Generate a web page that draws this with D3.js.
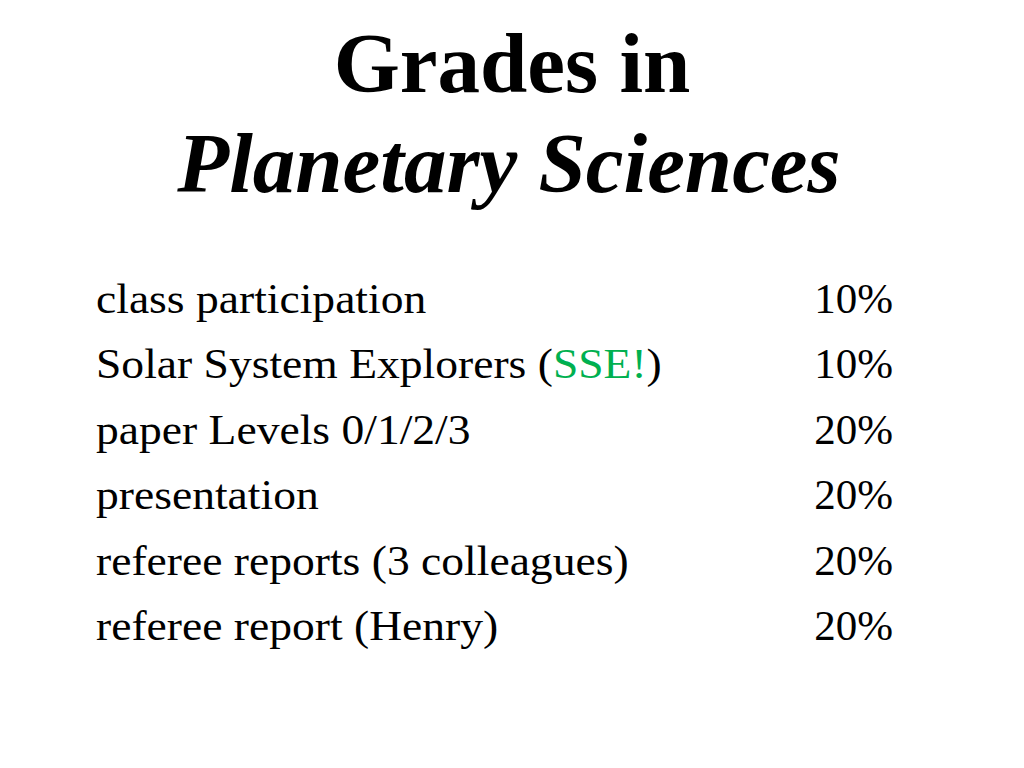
<!DOCTYPE html>
<html><head><meta charset="utf-8">
<script src="https://cdn.jsdelivr.net/npm/d3@7"></script>
<style>body{margin:0;background:#fff}</style></head>
<body><svg id="c" width="1024" height="768"></svg>
<script>
const items = ["class participation","Solar System Explorers (SSE!)","paper Levels 0/1/2/3","presentation","referee reports (3 colleagues)","referee report (Henry)"];
const weights = [10,10,20,20,20,20];
const svg = d3.select("#c");
const font = "'Liberation Serif','Times New Roman',serif";
svg.append("text").attr("x",512).attr("y",92).attr("text-anchor","middle")
  .attr("font-family",font).attr("font-weight","bold").attr("font-size",85).text("Grades in");
svg.append("text").attr("x",509).attr("y",192).attr("text-anchor","middle")
  .attr("font-family",font).attr("font-weight","bold").attr("font-style","italic").attr("font-size",85).text("Planetary Sciences");
const y = d3.scalePoint().domain(d3.range(items.length)).range([313,640]);
const g = svg.append("g").attr("font-family",font).attr("font-size",43).attr("fill","#000");
items.forEach((t,i)=>{
  const tx = g.append("text").attr("transform",`translate(96,${y(i)}) scale(1.06,1)`);
  const m = t.match(/^(.*\()(SSE!)(\).*)$/);
  if(m){
    tx.append("tspan").text(m[1]);
    tx.append("tspan").attr("fill","#00b050").text(m[2]);
    tx.append("tspan").text(m[3]);
  } else tx.text(t);
  g.append("text").attr("x",893).attr("y",y(i)).attr("text-anchor","end").text(weights[i]+"%");
});
</script></body></html>
